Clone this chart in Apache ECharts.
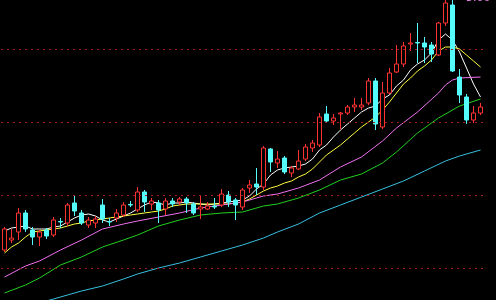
<!DOCTYPE html>
<html>
<head>
<meta charset="utf-8">
<script src="https://cdn.jsdelivr.net/npm/echarts@6/dist/echarts.min.js"></script>
<style>
  html, body { margin: 0; padding: 0; background: #000; }
  #chart { width: 496px; height: 300px; }
</style>
</head>
<body>
<div id="chart"></div>
<script>
// candles: [open, close, low, high]
const candles = [
  [50, 71, 48, 73], [60, 62, 57, 71], [68, 87, 60, 92], [87, 71, 68, 90],
  [70, 63, 55, 73], [63, 68, 54, 70], [70, 64, 61, 72], [65, 80, 63, 83],
  [78.5, 78, 72, 82], [77, 95, 74, 97], [97, 89, 84, 104], [87, 77, 75, 90],
  [75, 80, 72, 83], [77, 81, 72, 84], [95, 81, 77, 101], [78.5, 78, 74, 82],
  [82, 87, 78, 91], [85, 95, 83, 98], [95.5, 95, 93, 99], [90, 108, 88, 113],
  [108, 98, 88, 110], [96, 99, 90, 102], [97, 90, 77, 100], [91, 99, 85, 102],
  [99, 96, 93, 102], [98, 101, 95, 103], [101, 97, 87, 103], [96, 87, 85, 98],
  [91, 93, 81, 104], [91, 94, 90, 98], [94, 93, 91, 102], [95, 106, 93, 111],
  [105, 98, 93, 109], [100, 95, 80, 102], [93, 110, 90, 112], [112, 115, 107, 120],
  [116, 113, 105, 132], [113, 152, 110, 154], [151, 138, 128, 152], [137, 141, 132, 149],
  [142, 128, 126, 144], [127, 132, 123, 134], [131, 139, 130, 150], [141, 153, 139, 156],
  [152, 157, 148, 160], [155, 183, 153, 187], [186, 179, 178, 194], [179, 182, 175, 186],
  [186, 187, 171, 188], [187, 193, 185, 195], [193, 195, 188, 202], [193, 195, 190, 202],
  [197, 219, 195, 222], [219, 176, 170, 222], [173, 207, 171, 218], [207, 227, 206, 232],
  [228, 236, 227, 255], [236, 254, 233, 258], [256, 257, 249, 267], [257.5, 257, 237, 277],
  [257, 253, 237, 263], [255, 246, 238, 258], [245, 277, 244, 278], [277, 297, 274, 302],
  [295, 229, 228, 305], [223, 205, 197, 231], [203, 180, 176, 206], [180, 187, 177, 194],
  [187, 193, 185, 197]
]

const ma5 = [69, 72, 73, 74, 71, 71, 71, 73, 74, 78, 82, 85, 86, 84, 80, 78, 81, 84, 87, 91,
  95, 98, 97, 95, 97, 97, 98, 97, 96, 95, 96, 97, 98, 99, 100, 104, 111, 116, 125, 130,
  132, 133, 134, 136, 141, 150, 155, 163, 170, 176, 182, 188, 192, 194, 201, 205, 214, 220, 230, 236,
  240, 247, 260, 266, 260, 248, 232, 216, 203]

const ma10 = [47, 53, 57, 63, 68, 69, 70, 71, 72, 74, 76, 77, 79, 80, 81, 82, 83, 84, 85, 86,
  87, 88, 89, 91, 94, 95, 96, 96, 96, 96, 96, 96, 96, 97, 98, 101, 105, 109, 112, 114,
  117, 119, 123, 126, 131, 138, 145, 150, 155, 161, 167, 173, 178, 183, 190, 198, 207, 216, 222, 229,
  234, 240, 249, 253, 253, 251, 245, 239, 233]

// [candle index, value]
const ma20 = [[0, 23], [3, 34], [5, 39], [8, 50], [11, 60], [14, 71], [17, 76], [19, 79], [22, 83],
  [25, 87], [28, 92], [31, 95], [34, 98], [37, 104], [39, 106], [42, 112], [45, 120], [48, 133],
  [51, 143], [54, 159], [56, 172], [59, 188], [62, 207], [63, 215], [64, 220], [65, 222], [68, 223]]

const ma30 = [[0, 7], [3, 15], [5, 22], [8, 35], [11, 43], [14, 53], [17, 60], [19, 65], [22, 74],
  [25, 80], [28, 85], [31, 87], [34, 88], [37, 94], [39, 96], [42, 102], [45, 110], [48, 120],
  [51, 126], [54, 137], [56, 148], [59, 167], [62, 182], [65, 194], [68, 201]]

const ma60 = [[4, -5], [6, -1], [7, 1], [11, 9], [14, 14], [17, 21], [19, 26], [22, 32], [25, 37],
  [28, 43], [31, 49], [34, 55], [37, 62], [39, 68], [42, 76], [45, 87], [48, 95], [51, 103],
  [54, 111], [57, 119], [60, 129], [63, 139], [65, 144], [68, 150]]

const priceLines = [32, 105, 178, 251]
const categories = candles.map((d, i) => 'D' + (i + 1))

function maLine(name, data, color) {
  return {
    name: name,
    type: 'line',
    data: data,
    symbol: 'none',
    connectNulls: true,
    lineStyle: { color: color, width: 1 },
    z: 1
  }
}

const chart = echarts.init(document.getElementById('chart'))
chart.setOption({
  backgroundColor: '#000',
  animation: false,
  grid: { left: 1, right: 12, top: 0, bottom: 0 },
  xAxis: {
    type: 'category',
    data: categories,
    show: false
  },
  yAxis: {
    type: 'value',
    min: 0,
    max: 300,
    show: false,
    splitLine: { show: false }
  },
  graphic: [{
    type: 'text',
    left: 466,
    top: -7,
    style: { text: '5.00', fill: '#e080e0', font: '11px "DejaVu Sans"' }
  }],
  series: [
    {
      type: 'candlestick',
      data: candles,
      barWidth: 5,
      z: 2,
      itemStyle: {
        color: '#000',
        borderColor: '#ff3232',
        color0: '#54fcfc',
        borderColor0: '#54fcfc',
        borderWidth: 1
      },
      markLine: {
        silent: true,
        symbol: 'none',
        label: { show: false },
        lineStyle: { color: '#a01e1e', type: [2, 4], width: 1 },
        data: priceLines.map(v => ({ yAxis: v }))
      }
    },
    maLine('MA5', ma5, '#ffffff'),
    maLine('MA10', ma10, '#ffff40'),
    maLine('MA20', ma20, '#f070f0'),
    maLine('MA30', ma30, '#22d022'),
    maLine('MA60', ma60, '#38c0e0')
  ]
})
</script>
</body>
</html>
